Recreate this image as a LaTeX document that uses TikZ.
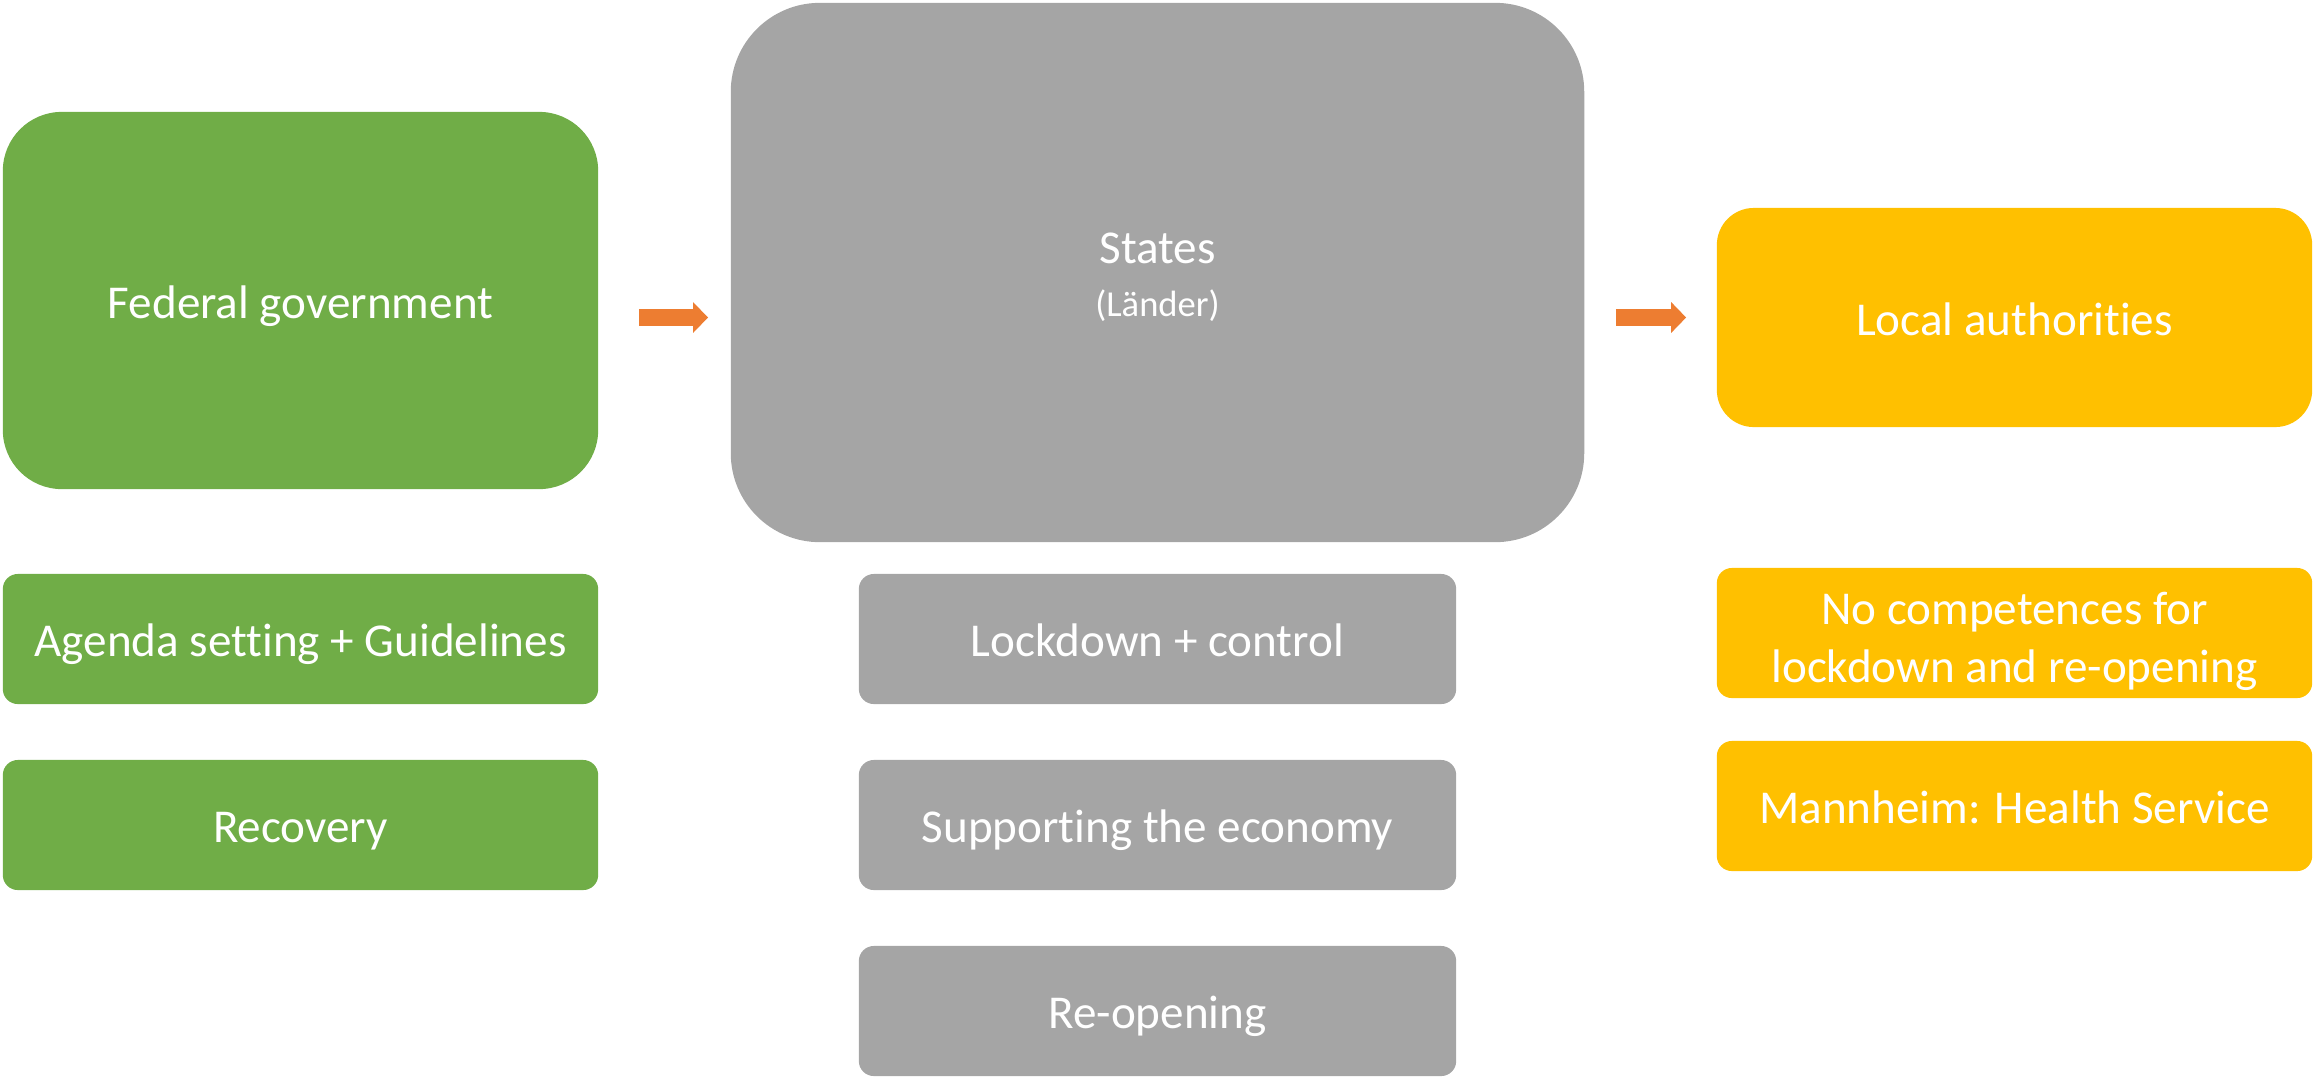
\documentclass[tikz,border=0pt]{standalone}
\usepackage{fontspec}
\setmainfont{Carlito}[Ligatures={NoCommon,NoContextual},RawFeature={-liga;-clig;-dlig}]
\usetikzlibrary{arrows.meta,calc}
\definecolor{fedgreen}{HTML}{70AD47}
\definecolor{stategray}{HTML}{A5A5A5}
\definecolor{localyellow}{HTML}{FFC000}
\definecolor{arroworange}{HTML}{ED7D31}

\begin{document}
\begin{tikzpicture}[x=0.01cm,y=-0.01cm,
  box/.style={rectangle,draw=none,text=white,inner sep=0pt,align=center,
    font=\fontsize{13.4}{16.4}\selectfont},
  oneline/.style={text height=12.7pt,text depth=2.7pt},
  bigbox/.style={box,oneline,minimum width=5.95cm},
  smallbox/.style={box,minimum width=5.95cm,minimum height=1.3cm,rounded corners=0.15cm},
  flow/.style={draw=arroworange,line width=0.17cm,
    -{Triangle[length=0.15cm,width=0.30cm]}}]
\useasboundingbox (0,0) rectangle (2315,1081);
% top level boxes
\node[bigbox,fill=fedgreen,minimum height=3.77cm,rounded corners=0.59cm] (fed) at (300.5,300.5) {Federal government};
\node[box,fill=stategray,minimum width=8.53cm,minimum height=5.39cm,rounded corners=0.89cm] (states) at (1157.5,272.5)
  {\rule{0pt}{11.4pt}States\\[-1.1pt]{\fontsize{10.4}{12}\selectfont (Länder)}};
\node[bigbox,fill=localyellow,minimum height=2.19cm,rounded corners=0.37cm] (loc) at (2014.5,317.5) {Local authorities};
% tasks
\node[smallbox,oneline,fill=fedgreen] (agenda) at (300.5,639) {Agenda setting + Guidelines};
\node[smallbox,oneline,fill=fedgreen] (recov) at (300.5,825) {Recovery};
\node[smallbox,oneline,fill=stategray,minimum width=5.97cm] (lock) at (1157.5,639) {Lockdown + control};
\node[smallbox,oneline,fill=stategray,minimum width=5.97cm] (supp) at (1157.5,825) {Supporting the economy};
\node[smallbox,oneline,fill=stategray,minimum width=5.97cm] (reop) at (1157.5,1011) {Re-opening};
\node[smallbox,fill=localyellow] (nocomp) at (2014.5,633) {\rule{0pt}{14pt}No competences for\\lockdown and re-opening};
\node[smallbox,oneline,fill=localyellow] (mann) at (2014.5,806) {Mannheim: Health Service};
% arrows
\draw[flow] ($(fed.east |- loc.west)+(40,0)$) -- ($(states.west |- loc.west)+(-22,0)$);
\draw[flow] ($(states.east |- loc.west)+(31,0)$) -- ($(loc.west)+(-30,0)$);
\end{tikzpicture}
\end{document}
